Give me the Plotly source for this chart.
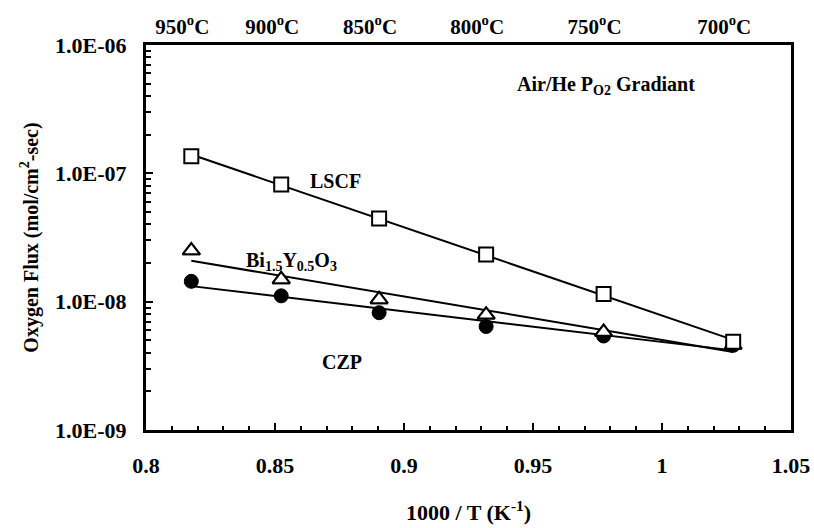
import numpy as np
import plotly.graph_objects as go

# ---- data ----
temps_c = [950, 900, 850, 800, 750, 700]
temp_labels = ["950<sup>o</sup>C", "900<sup>o</sup>C", "850<sup>o</sup>C",
               "800<sup>o</sup>C", "750<sup>o</sup>C", "700<sup>o</sup>C"]
inv_T = [1000.0 / (t + 273.15) for t in temps_c]

lscf_x = inv_T
lscf_flux = [1.36e-7, 8.2e-8, 4.45e-8, 2.33e-8, 1.15e-8, 4.87e-9]

bi_x = inv_T
bi_flux = [2.5e-8, 1.49e-8, 1.04e-8, 7.9e-9, 5.8e-9, 4.6e-9]

czp_x = inv_T
czp_flux = [1.44e-8, 1.11e-8, 8.2e-9, 6.4e-9, 5.4e-9, 4.57e-9]

y_tickvals = [1e-9, 1e-8, 1e-7, 1e-6]
y_ticktext = ["1.0E-09", "1.0E-08", "1.0E-07", "1.0E-06"]

FONT = "Liberation Serif"


def trend(xs, ys):
    k, b = np.polyfit(xs, np.log10(ys), 1)
    xe = [xs[0], xs[-1]]
    return xe, [10 ** (k * v + b) for v in xe]


fig = go.Figure()

for xs, ys in [(lscf_x, lscf_flux), (bi_x, bi_flux), (czp_x, czp_flux)]:
    tx, ty = trend(xs, ys)
    fig.add_trace(go.Scatter(x=tx, y=ty, mode="lines",
                             line=dict(color="black", width=2),
                             showlegend=False, hoverinfo="skip"))

fig.add_trace(go.Scatter(x=bi_x, y=bi_flux, mode="markers", name="Bi1.5Y0.5O3",
                         marker=dict(symbol="triangle-up", size=15, color="white",
                                     line=dict(color="black", width=2))))
fig.add_trace(go.Scatter(x=czp_x, y=czp_flux, mode="markers", name="CZP",
                         marker=dict(symbol="circle", size=14, color="black",
                                     line=dict(color="black", width=1))))
# triangles that are visible on top of the circles (all but the hidden 700 C one)
fig.add_trace(go.Scatter(x=bi_x[:5], y=bi_flux[:5], mode="markers", showlegend=False,
                         marker=dict(symbol="triangle-up", size=15, color="white",
                                     line=dict(color="black", width=2))))
fig.add_trace(go.Scatter(x=lscf_x, y=lscf_flux, mode="markers", name="LSCF",
                         marker=dict(symbol="square", size=14, color="white",
                                     line=dict(color="black", width=2))))

# invisible trace to activate top axis
fig.add_trace(go.Scatter(x=[inv_T[0]], y=[1e-9], xaxis="x2", mode="markers",
                         marker=dict(opacity=0), showlegend=False, hoverinfo="skip"))

minor_y = [k * 10.0 ** e for e in (-9, -8, -7) for k in range(2, 10)]

fig.update_layout(
    width=814, height=528,
    margin=dict(l=146, r=23, t=45, b=98),
    paper_bgcolor="white", plot_bgcolor="white",
    showlegend=False,
    font=dict(family=FONT, color="black", size=20),
    xaxis=dict(range=[0.8, 1.05], dtick=0.05, tick0=0.8, automargin=False,
               showgrid=False, zeroline=False,
               showline=True, mirror=True, linecolor="black", linewidth=3,
               ticks="inside", ticklen=7, tickwidth=2, tickcolor="black",
               minor=dict(dtick=0.01, ticks="inside", ticklen=4, tickwidth=2,
                          tickcolor="black", showgrid=False),
               tickfont=dict(family=FONT, size=22, weight="bold"),
               ticklabelstandoff=14,
               title=dict(text="1000 / T (K<sup>-1</sup>)",
                          font=dict(family=FONT, size=22, weight="bold"),
                          standoff=28)),
    xaxis2=dict(overlaying="x", side="top", range=[0.8, 1.05], automargin=False,
                tickvals=inv_T, ticktext=temp_labels, ticks="",
                showgrid=False, zeroline=False, showline=False,
                tickfont=dict(family=FONT, size=21, weight="bold"),
                ticklabelstandoff=6, ticklabelshift=-9),
    yaxis=dict(type="log", range=[-9, -6], automargin=False,
               tickvals=y_tickvals, ticktext=y_ticktext,
               showgrid=False, zeroline=False,
               showline=True, mirror=True, linecolor="black", linewidth=3,
               ticks="inside", ticklen=7, tickwidth=2, tickcolor="black",
               minor=dict(tickvals=minor_y, ticks="inside", ticklen=5, tickwidth=2,
                          tickcolor="black", showgrid=False),
               tickfont=dict(family=FONT, size=22, weight="bold"),
               ticklabelstandoff=12,
               title=dict(text="Oxygen Flux (mol/cm<sup>2</sup>-sec)",
                          font=dict(family=FONT, size=20, weight="bold"),
                          standoff=12)),
    annotations=[
        dict(x=0.8735, y=-7.0625, xref="x", yref="y", text="LSCF",
             showarrow=False, font=dict(family=FONT, size=20, weight="bold")),
        dict(x=0.8565, y=-7.69, xref="x", yref="y",
             text="Bi<sub>1.5</sub>Y<sub>0.5</sub>O<sub>3</sub>",
             showarrow=False, font=dict(family=FONT, size=20, weight="bold")),
        dict(x=0.8759, y=-8.469, xref="x", yref="y", text="CZP",
             showarrow=False, font=dict(family=FONT, size=20, weight="bold")),
        dict(x=0.9784, y=-6.3125, xref="x", yref="y",
             text="Air/He P<sub>O2</sub> Gradiant",
             showarrow=False, font=dict(family=FONT, size=20, weight="bold")),
    ],
)

fig.write_html("out.html")
